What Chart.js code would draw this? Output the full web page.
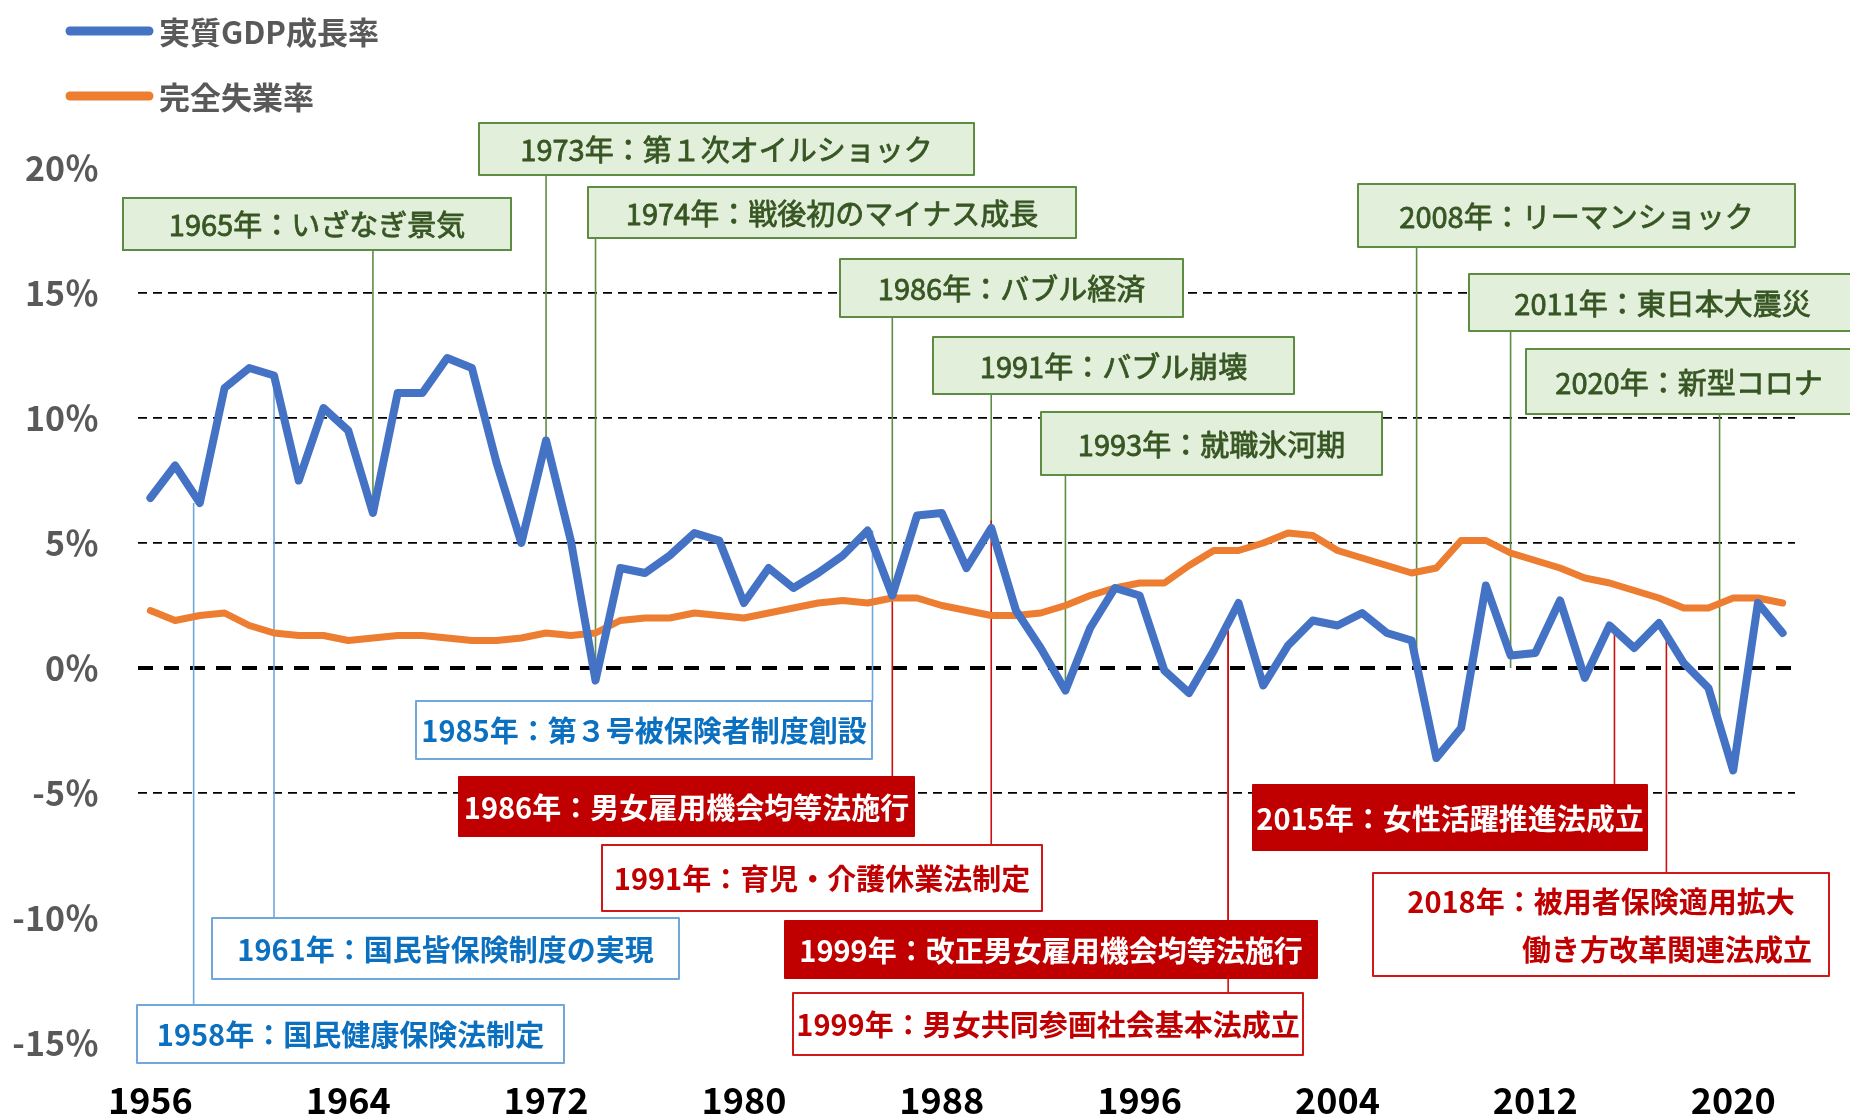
<!DOCTYPE html>
<html><head><meta charset="utf-8">
<script src="https://cdn.jsdelivr.net/npm/chart.js@4.4.1/dist/chart.umd.min.js"></script>
<style>html,body{margin:0;padding:0;background:#fff;}#wrap{width:1850px;height:1115px;}</style>
</head><body><div id="wrap"><canvas id="c" width="1850" height="1115"></canvas></div>
<script>
// ---- data ----
const years = ['1956','1957','1958','1959','1960','1961','1962','1963','1964','1965',
  '1966','1967','1968','1969','1970','1971','1972','1973','1974','1975',
  '1976','1977','1978','1979','1980','1981','1982','1983','1984','1985',
  '1986','1987','1988','1989','1990','1991','1992','1993','1994','1995',
  '1996','1997','1998','1999','2000','2001','2002','2003','2004','2005',
  '2006','2007','2008','2009','2010','2011','2012','2013','2014','2015',
  '2016','2017','2018','2019','2020','2021','2022'];
const gdpGrowth = [6.8,8.1,6.6,11.2,12.0,11.7,7.5,10.4,9.5,6.2,
  11.0,11.0,12.4,12.0,8.2,5.0,9.1,5.1,-0.5,4.0,
  3.8,4.5,5.4,5.1,2.6,4.0,3.2,3.8,4.5,5.5,
  2.9,6.1,6.2,4.0,5.6,2.3,0.8,-0.9,1.6,3.2,
  2.9,-0.1,-1.0,0.7,2.6,-0.7,0.9,1.9,1.7,2.2,
  1.4,1.1,-3.6,-2.4,3.3,0.5,0.6,2.7,-0.4,1.7,
  0.8,1.8,0.2,-0.8,-4.1,2.6,1.4];
const unemploymentRate = [2.3,1.9,2.1,2.2,1.7,1.4,1.3,1.3,1.1,1.2,
  1.3,1.3,1.2,1.1,1.1,1.2,1.4,1.3,1.4,1.9,
  2.0,2.0,2.2,2.1,2.0,2.2,2.4,2.6,2.7,2.6,
  2.8,2.8,2.5,2.3,2.1,2.1,2.2,2.5,2.9,3.2,
  3.4,3.4,4.1,4.7,4.7,5.0,5.4,5.3,4.7,4.4,
  4.1,3.8,4.0,5.1,5.1,4.6,4.3,4.0,3.6,3.4,
  3.1,2.8,2.4,2.4,2.8,2.8,2.6];
const seriesNames = ['実質GDP成長率','完全失業率'];
const xTickLabels = ['1956','1964','1972','1980','1988','1996','2004','2012','2020'];
const yTickValues = [-15,-10,-5,0,5,10,15,20];
const gridValues = [-5,0,5,10,15];

// ---- annotations (text, style, box layout, year & value the leader line points to) ----
const notes = [
  {text:['1965年：いざなぎ景気'], kind:'green', box:[123,198,511,250], year:1965, end:'gdp'},
  {text:['1973年：第１次オイルショック'], kind:'green', box:[479,123,974,175], year:1972, end:'gdp'},
  {text:['1974年：戦後初のマイナス成長'], kind:'green', box:[588,187,1076,238], year:1974, end:'gdp'},
  {text:['1986年：バブル経済'], kind:'green', box:[840,259,1183,317], year:1986, end:'gdp'},
  {text:['1991年：バブル崩壊'], kind:'green', box:[933,337,1294,394], year:1990, end:'gdp'},
  {text:['1993年：就職氷河期'], kind:'green', box:[1041,412,1382,475], year:1993, end:'gdp'},
  {text:['2008年：リーマンショック'], kind:'green', box:[1358,184,1795,247], year:2007.2, end:-0.2},
  {text:['2011年：東日本大震災'], kind:'green', box:[1469,274,1856,331], year:2011, end:0},
  {text:['2020年：新型コロナ'], kind:'green', box:[1526,349,1852,414], year:2019.45, end:-2.2},
  {text:['1985年：第３号被保険者制度創設'], kind:'blue', box:[416,701,872,759], year:1985.2, end:5.5},
  {text:['1961年：国民皆保険制度の実現'], kind:'blue', box:[212,918,679,979], year:1961, end:'gdp'},
  {text:['1958年：国民健康保険法制定'], kind:'blue', box:[137,1005,564,1063], year:1957.75, end:6.6},
  {text:['1986年：男女雇用機会均等法施行'], kind:'redFill', box:[459,777,914,836], year:1986, end:'unemp'},
  {text:['1991年：育児・介護休業法制定'], kind:'redLine', box:[602,845,1042,911], year:1990, end:5.9},
  {text:['1999年：改正男女雇用機会均等法施行'], kind:'redFill', box:[785,921,1317,978], year:1999.58, end:1.5},
  {text:['1999年：男女共同参画社会基本法成立'], kind:'redLine', box:[793,993,1303,1055], year:1999.58, end:1.5},
  {text:['2015年：女性活躍推進法成立'], kind:'redFill', box:[1253,785,1647,850], year:2015.2, end:1.7},
  {text:['2018年：被用者保険適用拡大','働き方改革関連法成立'], kind:'redLine', box:[1373,873,1829,976], year:2017.3, end:1.24, align:['center','right']}
];
const styles = {
  green:  {fill:'#E2EFDA', stroke:'#5E8C43', text:'#375623', line:'#5E8C43', weight:'normal', extra:0.8},
  blue:   {fill:'#FFFFFF', stroke:'#6FA8DC', text:'#0B70C0', line:'#6FA8DC', weight:'bold', extra:0},
  redFill:{fill:'#C00000', stroke:'#C00000', text:'#FFFFFF', line:'#D01010', weight:'bold', extra:0},
  redLine:{fill:'#FFFFFF', stroke:'#D01818', text:'#C00000', line:'#D01010', weight:'bold', extra:0}
};
const FONT = "'Noto Sans CJK JP','Noto Sans',sans-serif";

const annotPlugin = {
  id:'annot',
  beforeDatasetsDraw(chart){
    const ctx = chart.ctx, xs = chart.scales.x, ys = chart.scales.y;
    ctx.save();
    notes.forEach(n => {
      const st = styles[n.kind];
      const idx = n.year - 1956;
      const x = xs.getPixelForValue(idx);
      let v = n.end;
      if (v === 'gdp') v = gdpGrowth[Math.round(idx)];
      if (v === 'unemp') v = unemploymentRate[Math.round(idx)];
      const yEnd = ys.getPixelForValue(v);
      const yStart = (n.box[3] < yEnd) ? n.box[3] : n.box[1];
      ctx.strokeStyle = st.line; ctx.lineWidth = 1.6; ctx.setLineDash([]);
      ctx.beginPath(); ctx.moveTo(x, yStart); ctx.lineTo(x, yEnd); ctx.stroke();
    });
    ctx.restore();
  },
  afterDraw(chart){
    const ctx = chart.ctx;
    ctx.save();
    notes.forEach(n => {
      const st = styles[n.kind];
      const [x1,y1,x2,y2] = n.box;
      ctx.fillStyle = st.fill; ctx.fillRect(x1,y1,x2-x1,y2-y1);
      ctx.strokeStyle = st.stroke; ctx.lineWidth = 2; ctx.setLineDash([]);
      ctx.strokeRect(x1,y1,x2-x1,y2-y1);
      ctx.fillStyle = st.text;
      ctx.font = st.weight + ' 29px ' + FONT;
      ctx.textBaseline = 'middle';
      const lh = 48;
      const cy = (y1+y2)/2 - (n.text.length-1)*lh/2;
      n.text.forEach((t,i) => {
        const al = n.align ? n.align[i] : 'center';
        ctx.textAlign = al;
        const tx = al === 'right' ? x2 - 17 : (x1+x2)/2;
        ctx.fillText(t, tx, cy + i*lh + 1);
        if (st.extra) {
          ctx.strokeStyle = st.text; ctx.lineWidth = st.extra; ctx.lineJoin = 'round';
          ctx.strokeText(t, tx, cy + i*lh + 1);
        }
      });
    });
    // legend
    const ds = chart.data.datasets;
    ds.forEach((d,i) => {
      const y = 31 + i*65;
      ctx.strokeStyle = d.borderColor; ctx.lineWidth = 9; ctx.lineCap = 'round';
      ctx.beginPath(); ctx.moveTo(70,y); ctx.lineTo(149,y); ctx.stroke();
      ctx.fillStyle = '#595959'; ctx.font = 'bold 31px ' + FONT;
      ctx.textAlign = 'left'; ctx.textBaseline = 'middle';
      ctx.fillText(d.label, 159, y+1);
    });
    ctx.restore();
  }
};

new Chart(document.getElementById('c'), {
  type:'line',
  data:{labels:years, datasets:[
    {label:seriesNames[0], data:gdpGrowth, borderColor:'#4472C4', borderWidth:8, pointRadius:0, tension:0,
     borderJoinStyle:'round', borderCapStyle:'round', fill:false},
    {label:seriesNames[1], data:unemploymentRate, borderColor:'#ED7D31', borderWidth:7, pointRadius:0, tension:0,
     borderJoinStyle:'round', borderCapStyle:'round', fill:false}
  ]},
  options:{
    responsive:false, animation:false, devicePixelRatio:1,
    layout:{padding:{top:168, right:55, left:0, bottom:0}},
    plugins:{legend:{display:false}, tooltip:{enabled:false}},
    scales:{
      x:{type:'category', offset:true,
        grid:{display:false, drawTicks:false}, border:{display:false},
        ticks:{autoSkip:false, maxRotation:0, minRotation:0, padding:36, color:'#000',
          font:{family:FONT, size:36, weight:'bold'},
          callback:function(v){ const l = this.getLabelForValue(v); return xTickLabels.includes(l) ? l : ''; }},
        afterFit(s){ s.height = 72; }},
      y:{min:-15, max:20,
        afterBuildTicks(s){ s.ticks = yTickValues.map(v => ({value:v})); },
        ticks:{padding:39, color:'#595959', font:{family:FONT, size:34, weight:'bold'},
          callback:v => v + '％'},
        grid:{drawTicks:false,
          color:c => (c.tick && gridValues.includes(c.tick.value)) ? '#000' : 'rgba(0,0,0,0)',
          lineWidth:c => (c.tick && c.tick.value===0) ? 4 : 1.7},
        border:{display:false, dash:c => (c.tick && c.tick.value===0) ? [15,11] : [9,6]},
        afterFit(s){ s.width = 138; }}
    }
  },
  plugins:[annotPlugin]
});
</script></body></html>
